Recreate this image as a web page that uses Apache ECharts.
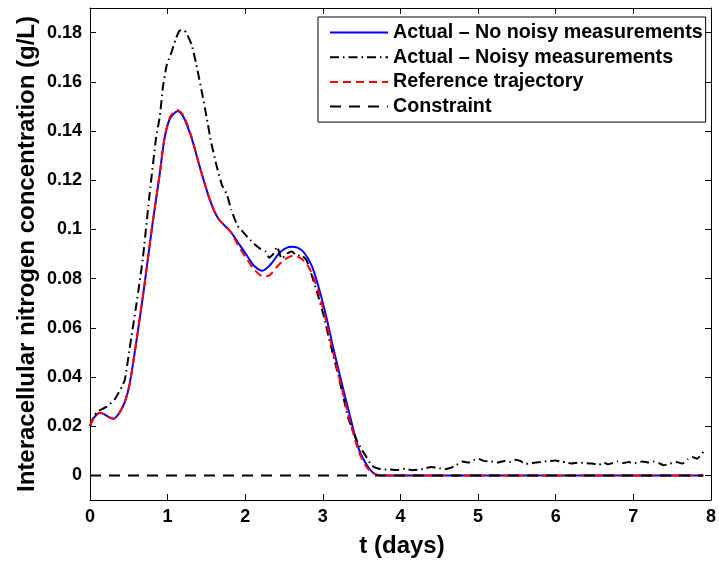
<!DOCTYPE html>
<html>
<head>
<meta charset="utf-8">
<script src="https://cdn.jsdelivr.net/npm/echarts@6/dist/echarts.min.js"></script>
<style>
html,body{margin:0;padding:0;background:#fff;}
#c{width:719px;height:561px;}
</style>
</head>
<body>
<div id="c"></div>
<script>
// ---- data ----
const xTicks = [0, 1, 2, 3, 4, 5, 6, 7, 8];
const yTicks = [0, 0.02, 0.04, 0.06, 0.08, 0.1, 0.12, 0.14, 0.16, 0.18];

const legendNames = [
  'Actual \u2013 No noisy measurements',
  'Actual \u2013 Noisy measurements',
  'Reference trajectory',
  'Constraint'
];

// Actual - no noisy measurements (blue)
const blueT = [0, 0.06, 0.13, 0.2, 0.3, 0.38, 0.45, 0.51, 0.6, 0.7, 0.8, 0.9, 0.96, 1.03, 1.13, 1.2, 1.31, 1.4, 1.54, 1.65, 1.8, 1.9, 2.03, 2.12, 2.22, 2.32, 2.46, 2.6, 2.68, 2.76, 2.86, 2.95, 3.04, 3.14, 3.24, 3.35, 3.46, 3.56, 3.65, 3.75, 7.9];
const blueV = [0.0203, 0.0238, 0.0255, 0.0245, 0.023, 0.0255, 0.030, 0.037, 0.055, 0.077, 0.101, 0.123, 0.137, 0.145, 0.148, 0.146, 0.137, 0.127, 0.1124, 0.1045, 0.0995, 0.095, 0.089, 0.085, 0.0832, 0.0855, 0.091, 0.0929, 0.0925, 0.0905, 0.085, 0.076, 0.065, 0.051, 0.038, 0.024, 0.011, 0.0045, 0.001, 0, 0];

// Actual - noisy measurements (black dash-dot)
const noisyT = [0, 0.05, 0.1, 0.16, 0.22, 0.32, 0.41, 0.45, 0.51, 0.6, 0.68, 0.76, 0.85, 0.9, 0.94, 0.99, 1.05, 1.1, 1.15, 1.2, 1.24, 1.31, 1.37, 1.44, 1.5, 1.56, 1.63, 1.7, 1.76, 1.82, 1.9, 1.97, 2.05, 2.12, 2.2, 2.26, 2.31, 2.36, 2.41, 2.47, 2.53, 2.6, 2.66, 2.73, 2.79, 2.86, 2.93, 3.01, 3.1, 3.2, 3.27, 3.33, 3.39, 3.44, 3.5, 3.55, 3.63, 3.72, 3.82, 3.85, 3.95, 4.06, 4.15, 4.25, 4.33, 4.4, 4.5, 4.57, 4.64, 4.72, 4.79, 4.88, 4.94, 5.0, 5.08, 5.17, 5.25, 5.34, 5.4, 5.47, 5.55, 5.6, 5.66, 5.74, 5.81, 5.9, 6.0, 6.07, 6.13, 6.2, 6.3, 6.38, 6.47, 6.55, 6.62, 6.67, 6.73, 6.79, 6.86, 6.94, 7.02, 7.12, 7.2, 7.27, 7.33, 7.39, 7.47, 7.56, 7.63, 7.7, 7.76, 7.82, 7.91];
const noisyV = [0.02, 0.024, 0.026, 0.027, 0.028, 0.031, 0.036, 0.039, 0.0515, 0.07, 0.088, 0.112, 0.137, 0.146, 0.158, 0.167, 0.172, 0.177, 0.1807, 0.1812, 0.18, 0.175, 0.167, 0.156, 0.146, 0.1355, 0.126, 0.118, 0.1145, 0.108, 0.1015, 0.099, 0.0962, 0.094, 0.092, 0.091, 0.0885, 0.09, 0.093, 0.088, 0.09, 0.091, 0.0895, 0.0893, 0.0875, 0.081, 0.074, 0.065, 0.053, 0.0405, 0.031, 0.023, 0.018, 0.014, 0.0105, 0.008, 0.004, 0.0027, 0.0024, 0.0024, 0.0022, 0.0027, 0.0021, 0.0024, 0.003, 0.0034, 0.0029, 0.0025, 0.003, 0.0042, 0.0057, 0.0052, 0.0062, 0.0068, 0.0058, 0.0057, 0.0052, 0.0059, 0.0054, 0.0064, 0.0058, 0.0047, 0.0048, 0.0052, 0.0054, 0.0058, 0.0061, 0.0055, 0.0054, 0.0048, 0.0052, 0.005, 0.0048, 0.0043, 0.0052, 0.0045, 0.005, 0.0057, 0.005, 0.0054, 0.005, 0.0057, 0.0052, 0.0057, 0.005, 0.0041, 0.0048, 0.0054, 0.0048, 0.0065, 0.0075, 0.0068, 0.0099];

// Reference trajectory (red dashed)
const refT = [0, 0.06, 0.13, 0.2, 0.3, 0.38, 0.45, 0.51, 0.6, 0.7, 0.8, 0.9, 0.96, 1.03, 1.12, 1.2, 1.31, 1.4, 1.54, 1.65, 1.8, 1.9, 2.03, 2.12, 2.24, 2.32, 2.4, 2.5, 2.62, 2.7, 2.78, 2.86, 2.95, 3.04, 3.14, 3.24, 3.35, 3.46, 3.56, 3.65, 3.75, 7.9];
const refV = [0.0203, 0.0238, 0.0255, 0.0245, 0.023, 0.0255, 0.030, 0.037, 0.055, 0.077, 0.101, 0.123, 0.137, 0.1455, 0.1485, 0.1465, 0.1375, 0.127, 0.1124, 0.1045, 0.0995, 0.094, 0.0875, 0.0835, 0.0808, 0.0815, 0.0845, 0.0875, 0.0893, 0.0885, 0.0865, 0.082, 0.074, 0.063, 0.049, 0.036, 0.022, 0.010, 0.0035, 0.0008, 0, 0];

// Constraint (black dashed)
const conT = [0, 7.9];
const conV = [0, 0];

// ---- chart ----
const zip = (t, v) => t.map((x, i) => [x, v[i]]);
const FONT = 'Liberation Sans';

const chart = echarts.init(document.getElementById('c'), null, {renderer: 'canvas'});

const axisCommonX = {
  type: 'value', min: 0, max: 8, interval: 1,
  axisLine: {show: true, onZero: false, lineStyle: {color: '#000', width: 1}},
  axisTick: {show: true, inside: true, length: 6, lineStyle: {color: '#000', width: 1}},
  splitLine: {show: false}
};
const axisCommonY = {
  type: 'value', min: -0.01, max: 0.19,
  axisLine: {show: true, onZero: false, lineStyle: {color: '#000', width: 1}},
  axisTick: {show: true, inside: true, length: 6, customValues: yTicks, lineStyle: {color: '#000', width: 1}},
  splitLine: {show: false}
};

chart.setOption({
  animation: false,
  backgroundColor: '#fff',
  grid: {left: 90, top: 8, right: 5, bottom: 61, containLabel: false},
  xAxis: [
    Object.assign({}, axisCommonX, {
      position: 'bottom',
      axisLabel: {show: true, color: '#000', fontFamily: FONT, fontWeight: 'bold', fontSize: 18, margin: 8,
        formatter: v => xTicks.indexOf(v) >= 0 ? String(v) : ''}
    }),
    Object.assign({}, axisCommonX, {position: 'top', axisLabel: {show: false}})
  ],
  yAxis: [
    Object.assign({}, axisCommonY, {
      position: 'left',
      axisLabel: {show: true, color: '#000', fontFamily: FONT, fontWeight: 'bold', fontSize: 18, margin: 8,
        customValues: yTicks, formatter: v => String(+v.toFixed(4))}
    }),
    Object.assign({}, axisCommonY, {position: 'right', axisLabel: {show: false}})
  ],
  legend: {
    show: true, orient: 'vertical', left: 318, top: 17,
    data: legendNames,
    backgroundColor: '#fff', borderColor: '#000', borderWidth: 1,
    padding: [5.5, 3, 5.5, 11], itemGap: 4.7, itemWidth: 58, itemHeight: 20,
    selectedMode: false,
    itemStyle: {opacity: 0},
    textStyle: {color: '#000', fontFamily: FONT, fontWeight: 'bold', fontSize: 19.7, lineHeight: 20}
  },
  graphic: [
    {type: 'text', x: 27, y: 254, rotation: Math.PI / 2,
      style: {text: 'Interacellular nitrogen concentration (g/L)', fill: '#000', font: 'bold 24px "Liberation Sans"', textAlign: 'center', textVerticalAlign: 'middle'}},
    {type: 'text', x: 402, y: 546,
      style: {text: 't (days)', fill: '#000', font: 'bold 24px "Liberation Sans"', textAlign: 'center', textVerticalAlign: 'middle'}}
  ],
  series: [
    {name: legendNames[0], type: 'line', data: zip(blueT, blueV), symbol: 'none', smooth: 0.3,
      lineStyle: {color: '#0000ff', width: 2, type: 'solid'}, itemStyle: {color: '#0000ff'}, z: 2},
    {name: legendNames[1], type: 'line', data: zip(noisyT, noisyV), symbol: 'none', smooth: 0.15,
      lineStyle: {color: '#000', width: 2, type: [9, 4, 1.5, 4]}, itemStyle: {color: '#000'}, z: 3},
    {name: legendNames[2], type: 'line', data: zip(refT, refV), symbol: 'none', smooth: 0.3,
      lineStyle: {color: '#ff0000', width: 2, type: [8, 5]}, itemStyle: {color: '#ff0000'}, z: 4},
    {name: legendNames[3], type: 'line', data: zip(conT, conV), symbol: 'none',
      lineStyle: {color: '#000', width: 2, type: [11, 8]}, itemStyle: {color: '#000'}, z: 5}
  ]
});
</script>
</body>
</html>
